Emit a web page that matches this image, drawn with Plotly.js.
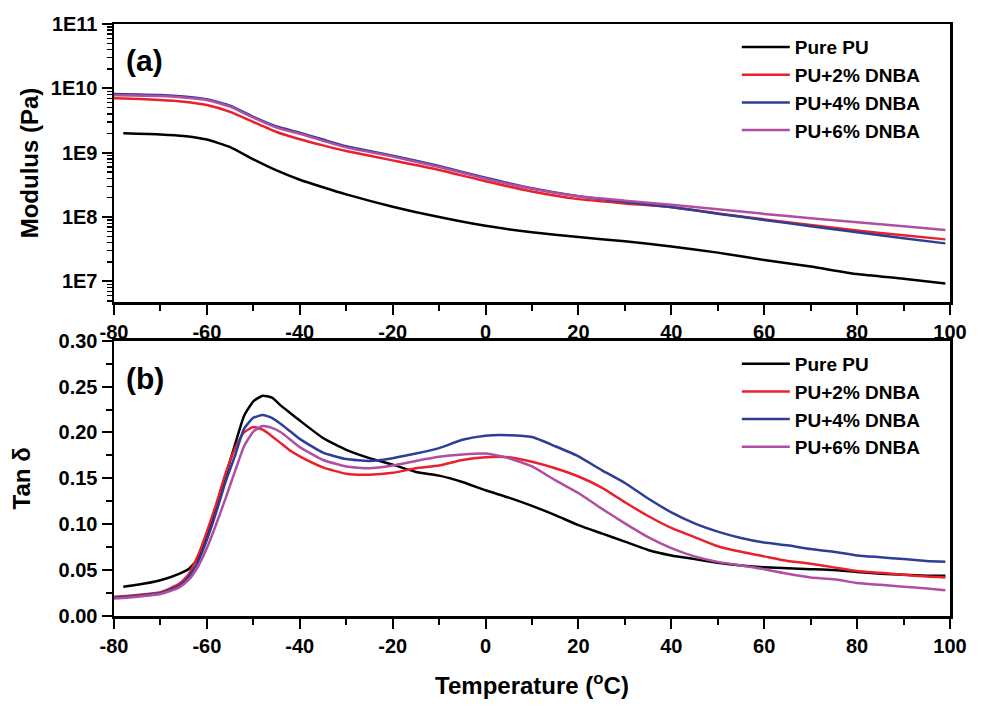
<!DOCTYPE html>
<html>
<head>
<meta charset="utf-8">
<script src="https://cdn.plot.ly/plotly-3.0.1.min.js"></script>
<style>html,body{margin:0;padding:0;background:#fff;}#chart{width:984px;height:706px;}</style>
</head>
<body>
<div id="chart"></div>
<script>
// ---------- Data ----------
const seriesNames = ["Pure PU", "PU+2% DNBA", "PU+4% DNBA", "PU+6% DNBA"];

// (a) Storage modulus (Pa)
const tempModBlack = [-78,-70,-65,-60,-55,-50,-45,-40,-35,-30,-20,-10,0,10,20,30,40,50,60,70,80,90,99];
const tempMod      = [-80,-70,-65,-60,-55,-50,-45,-40,-35,-30,-20,-10,0,10,20,30,40,50,60,70,80,90,99];
const modPure = [2.0e9,1.92e9,1.82e9,1.6e9,1.22e9,7.9e8,5.3e8,3.8e8,2.9e8,2.25e8,1.45e8,1.0e8,7.3e7,5.8e7,4.9e7,4.2e7,3.5e7,2.8e7,2.15e7,1.7e7,1.3e7,1.1e7,9.3e6];
const mod2 = [7.0e9,6.6e9,6.2e9,5.5e9,4.3e9,3.0e9,2.1e9,1.62e9,1.3e9,1.06e9,7.6e8,5.4e8,3.6e8,2.5e8,1.9e8,1.63e8,1.42e8,1.14e8,9.2e7,7.5e7,6.2e7,5.2e7,4.5e7];
const mod4 = [8.2e9,7.9e9,7.5e9,6.8e9,5.4e9,3.6e9,2.55e9,2.05e9,1.6e9,1.26e9,9.0e8,6.2e8,4.1e8,2.8e8,2.1e8,1.72e8,1.43e8,1.13e8,9.0e7,7.2e7,5.8e7,4.7e7,3.9e7];
const mod6 = [7.8e9,7.6e9,7.2e9,6.6e9,5.2e9,3.5e9,2.45e9,1.97e9,1.53e9,1.21e9,8.7e8,6.0e8,3.95e8,2.75e8,2.1e8,1.8e8,1.55e8,1.32e8,1.12e8,9.6e7,8.3e7,7.2e7,6.3e7];

// (b) Tan delta
const tempTanBlack = [-78,-75,-70,-66,-64,-62,-60,-58,-56,-54,-52,-50,-48,-46,-44,-42,-40,-35,-30,-25,-20,-15,-10,-5,0,5,10,15,20,25,30,35,40,45,50,55,60,65,70,75,80,85,90,95,99];
const tempTan      = [-80,-75,-70,-66,-64,-62,-60,-58,-56,-54,-52,-50,-48,-46,-44,-42,-40,-35,-30,-25,-20,-15,-10,-5,0,5,10,15,20,25,30,35,40,45,50,55,60,65,70,75,80,85,90,95,99];
const tanPure = [0.032,0.034,0.039,0.046,0.051,0.062,0.085,0.119,0.152,0.186,0.218,0.234,0.240,0.238,0.229,0.221,0.213,0.194,0.181,0.172,0.165,0.157,0.153,0.146,0.137,0.129,0.120,0.110,0.099,0.090,0.081,0.072,0.066,0.062,0.058,0.055,0.053,0.052,0.051,0.050,0.048,0.046,0.045,0.044,0.044];
const tan2 = [0.021,0.023,0.026,0.035,0.045,0.065,0.092,0.122,0.155,0.182,0.200,0.206,0.203,0.196,0.188,0.180,0.174,0.162,0.155,0.154,0.156,0.161,0.164,0.170,0.173,0.173,0.168,0.161,0.152,0.140,0.124,0.109,0.096,0.086,0.076,0.070,0.065,0.060,0.057,0.053,0.049,0.047,0.045,0.043,0.042];
const tan4 = [0.020,0.022,0.025,0.033,0.042,0.058,0.083,0.113,0.146,0.174,0.204,0.216,0.219,0.216,0.209,0.201,0.193,0.178,0.171,0.169,0.172,0.177,0.183,0.192,0.1965,0.197,0.195,0.185,0.174,0.159,0.145,0.128,0.113,0.101,0.092,0.085,0.080,0.077,0.073,0.070,0.066,0.064,0.062,0.060,0.059];
const tan6 = [0.019,0.021,0.024,0.031,0.039,0.053,0.074,0.100,0.128,0.157,0.185,0.201,0.207,0.205,0.200,0.192,0.184,0.170,0.163,0.161,0.164,0.169,0.1735,0.176,0.177,0.172,0.163,0.148,0.134,0.117,0.101,0.086,0.074,0.065,0.059,0.055,0.051,0.046,0.042,0.040,0.036,0.034,0.032,0.030,0.028];

const xTicks = [-80,-60,-40,-20,0,20,40,60,80,100];
const xTickText = ["-80","-60","-40","-20","0","20","40","60","80","100"];
const modTickVals = [1e7,1e8,1e9,1e10,1e11];
const modTickText = ["1E7","1E8","1E9","1E10","1E11"];

// ---------- Styling ----------
const colors = ["#000000", "#e8212b", "#2c3f95", "#b24ea2"];
const FONT = "Liberation Sans, Arial, Helvetica, sans-serif";
const LW = 2.5;

function tr(x, y, i, xa, ya, lg) {
  return {
    x: x, y: y, name: seriesNames[i], type: "scatter", mode: "lines",
    xaxis: xa, yaxis: ya, legend: lg,
    line: {color: colors[i], width: LW, shape: "spline", smoothing: 0.5}
  };
}

const traces = [
  tr(tempModBlack, modPure, 0, "x", "y", "legend"),
  tr(tempMod, mod2, 1, "x", "y", "legend"),
  tr(tempMod, mod4, 2, "x", "y", "legend"),
  tr(tempMod, mod6, 3, "x", "y", "legend"),
  tr(tempTanBlack, tanPure, 0, "x2", "y2", "legend2"),
  tr(tempTan, tan2, 1, "x2", "y2", "legend2"),
  tr(tempTan, tan4, 2, "x2", "y2", "legend2"),
  tr(tempTan, tan6, 3, "x2", "y2", "legend2")
];

// log minor tick positions (axis styling)
const logMinor = [];
for (let e = 6; e <= 10; e++) for (let m = 2; m <= 9; m++) logMinor.push(m * Math.pow(10, e));

const axBase = {
  showgrid: false, zeroline: false, showline: true, linecolor: "#000", linewidth: LW,
  mirror: true, ticks: "outside", ticklen: 10, tickwidth: 2, tickcolor: "#000",
  tickfont: {family: FONT, size: 20, weight: "bold", color: "#000"}
};

const layout = {
  width: 984, height: 706,
  margin: {l: 114, r: 34, t: 24, b: 90},
  paper_bgcolor: "#fff", plot_bgcolor: "#fff",
  font: {family: FONT, weight: "bold", color: "#000", size: 20},
  xaxis: Object.assign({}, axBase, {
    domain: [0, 1], anchor: "y", range: [-80, 100],
    tickmode: "array", tickvals: xTicks, ticktext: xTickText,
    minor: {dtick: 10, tick0: -80, ticks: "outside", ticklen: 6, tickwidth: 2, tickcolor: "#000"}
  }),
  yaxis: Object.assign({}, axBase, {
    domain: [0.5304, 1], anchor: "x", type: "log", range: [6.68, 11],
    tickmode: "array", tickvals: modTickVals, ticktext: modTickText,
    minor: {tickmode: "array", tickvals: logMinor, ticks: "outside", ticklen: 5, tickwidth: 1.5, tickcolor: "#000"},
    title: {text: "Modulus (Pa)", font: {family: FONT, size: 24, weight: "bold"}, standoff: 6}
  }),
  xaxis2: Object.assign({}, axBase, {
    domain: [0, 1], anchor: "y2", range: [-80, 100],
    tickmode: "array", tickvals: xTicks, ticktext: xTickText,
    minor: {dtick: 10, tick0: -80, ticks: "outside", ticklen: 6, tickwidth: 2, tickcolor: "#000"},
    title: {text: "Temperature (<sup>o</sup>C)", font: {family: FONT, size: 24, weight: "bold"}, standoff: 22}
  }),
  yaxis2: Object.assign({}, axBase, {
    domain: [0, 0.465], anchor: "x2", range: [0, 0.30],
    tickmode: "linear", tick0: 0, dtick: 0.05, tickformat: ".2f",
    minor: {dtick: 0.025, tick0: 0, ticks: "outside", ticklen: 6, tickwidth: 2, tickcolor: "#000"},
    title: {text: "Tan δ", font: {family: FONT, size: 24, weight: "bold"}, standoff: 21}
  }),
  legend: {
    x: 0.745, y: 0.993, xanchor: "left", yanchor: "top",
    bgcolor: "rgba(0,0,0,0)", borderwidth: 0,
    font: {family: FONT, size: 19, weight: "bold", color: "#000"},
    itemwidth: 48, tracegroupgap: 0
  },
  legend2: {
    x: 0.745, y: 0.458, xanchor: "left", yanchor: "top",
    bgcolor: "rgba(0,0,0,0)", borderwidth: 0,
    font: {family: FONT, size: 19, weight: "bold", color: "#000"},
    itemwidth: 48, tracegroupgap: 0
  },
  showlegend: true,
  annotations: [
    {text: "(a)", xref: "paper", yref: "paper", x: 0.037, y: 0.938, xanchor: "center", yanchor: "middle",
     showarrow: false, font: {family: FONT, size: 30, weight: "bold", color: "#000"}},
    {text: "(b)", xref: "paper", yref: "paper", x: 0.037, y: 0.402, xanchor: "center", yanchor: "middle",
     showarrow: false, font: {family: FONT, size: 30, weight: "bold", color: "#000"}}
  ]
};

Plotly.newPlot("chart", traces, layout, {displayModeBar: false, staticPlot: true});
</script>
</body>
</html>
